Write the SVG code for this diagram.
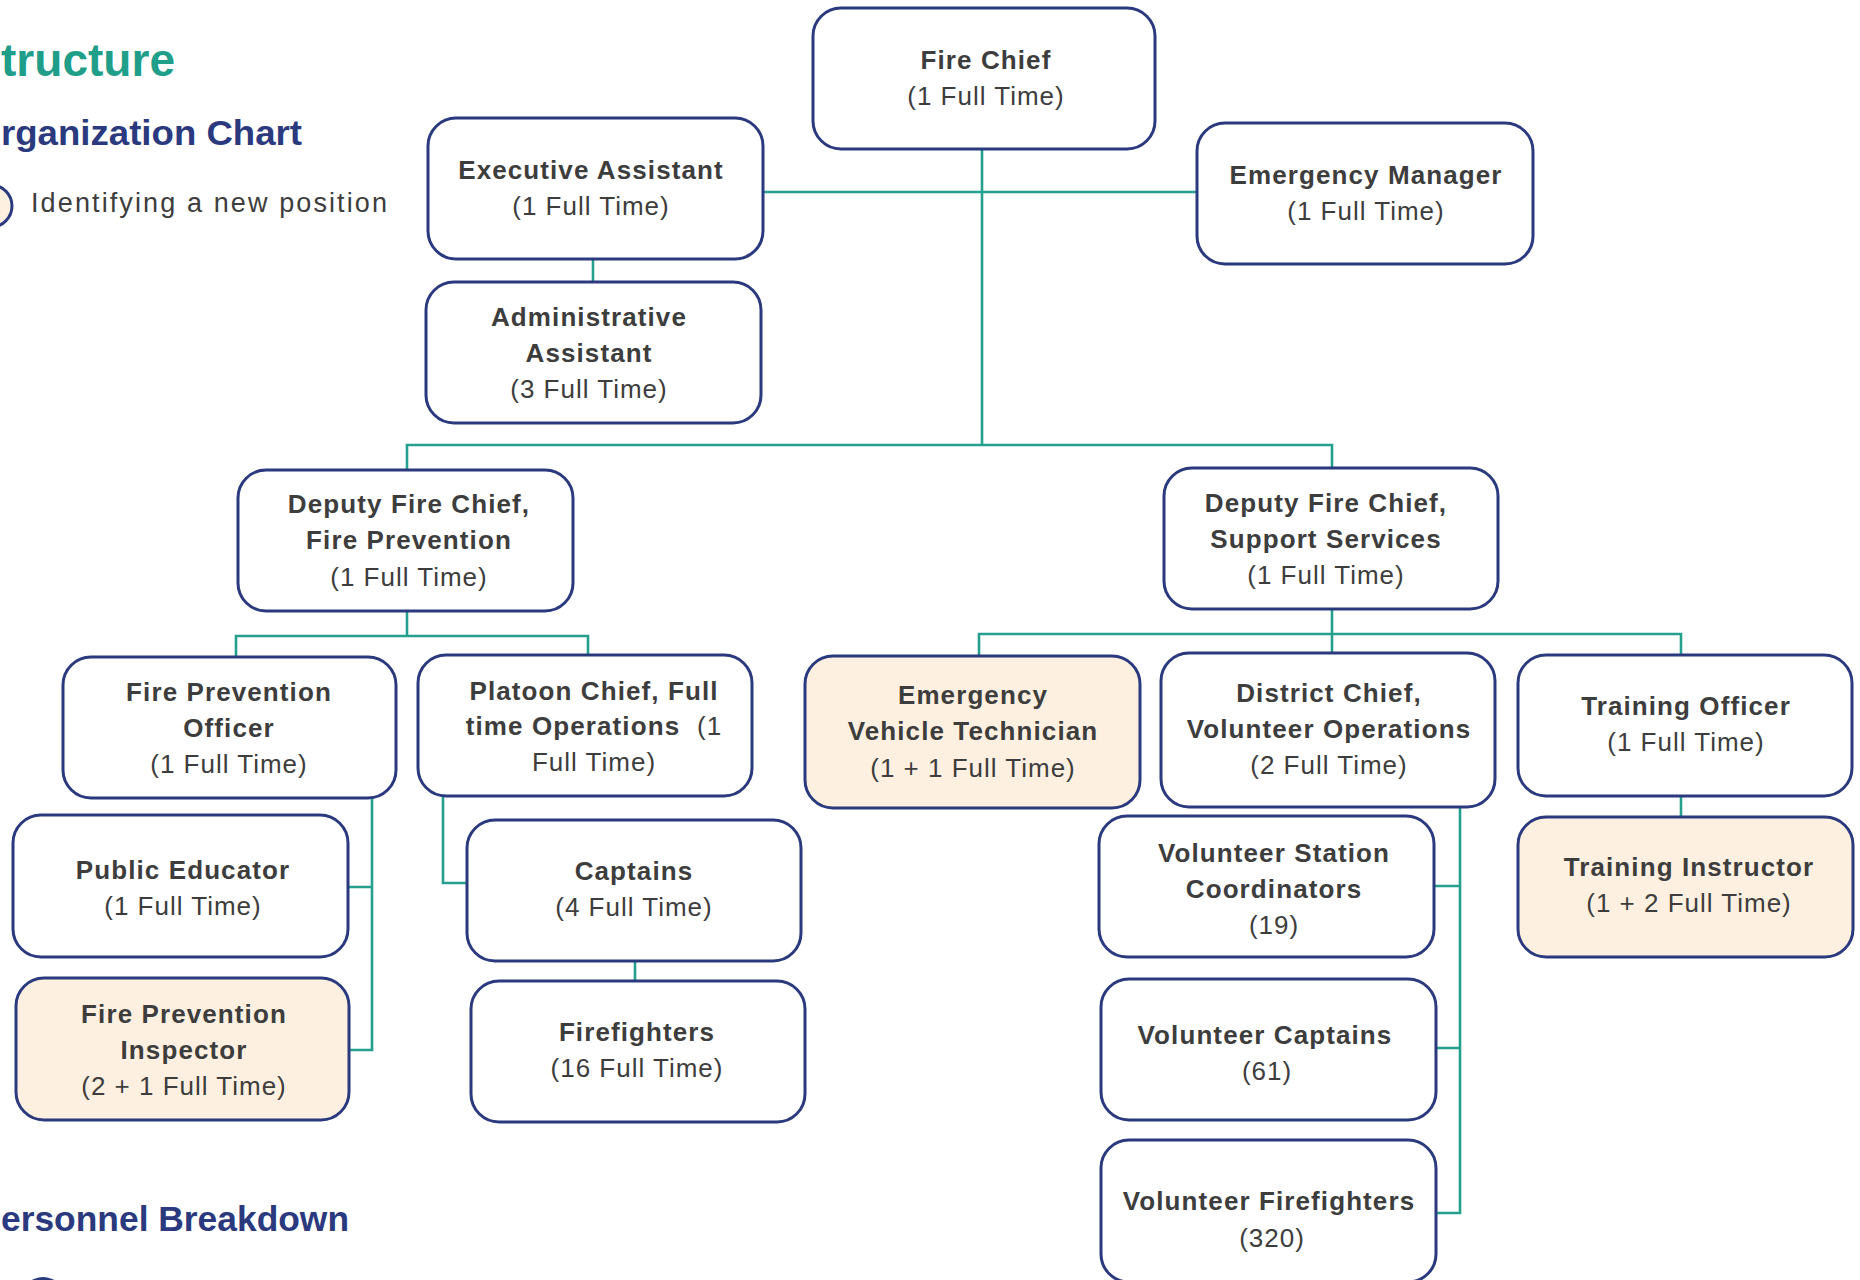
<svg xmlns="http://www.w3.org/2000/svg" width="1860" height="1280" viewBox="0 0 1860 1280">
<style>
.box{fill:#ffffff;stroke:#2b3a7e;stroke-width:3}
.new{fill:#fdf0e0;stroke:#2b3a7e;stroke-width:3}
.ln{fill:none;stroke:#26a08e;stroke-width:2.6}
text{font-family:"Liberation Sans",Arial,sans-serif;fill:#3d3d3d;text-anchor:middle;font-size:26px}
.t{font-weight:bold;letter-spacing:1.1px}
.s{letter-spacing:1px}
.h1{fill:#1f9e8a;font-size:46px;font-weight:bold;text-anchor:start}
.h2{fill:#2b3a7e;font-size:35px;font-weight:bold;text-anchor:start}
.lg{text-anchor:start;font-size:27px}
</style>
<rect width="1860" height="1280" fill="#ffffff"/>
<g id="headers">
<text class="h1" x="1" y="76" textLength="174" lengthAdjust="spacingAndGlyphs">tructure</text>
<text class="h2" x="1" y="145" textLength="301" lengthAdjust="spacingAndGlyphs">rganization Chart</text>
<circle cx="-9" cy="206" r="21" class="new"/>
<text class="lg" x="31" y="212" textLength="356" lengthAdjust="spacing">Identifying a new position</text>
<text class="h2" x="1" y="1231" textLength="348" lengthAdjust="spacingAndGlyphs">ersonnel Breakdown</text>
<circle cx="43" cy="1299" r="22" fill="#2b3a7e"/>
</g>
<g id="connectors">
<path class="ln" d="M982 149V445M763 192H1197M593 259V282"/>
<path class="ln" d="M407 470V445H1332V468"/>
<path class="ln" d="M407 611V636M236 657V636H588V655"/>
<path class="ln" d="M348 887H372M349 1050H372V798"/>
<path class="ln" d="M443 796V883H467M635 961V981"/>
<path class="ln" d="M1332 609V653M979 656V634H1681V655"/>
<path class="ln" d="M1460 807V1213H1436M1434 886H1460M1436 1048H1460"/>
<path class="ln" d="M1681 796V817"/>
</g>
<g id="fire-chief"><rect class="box" x="813" y="8" width="342" height="141" rx="28"/><text class="t" x="986" y="69">Fire Chief</text><text class="s" x="986" y="105">(1 Full Time)</text></g>
<g id="exec-assistant"><rect class="box" x="428" y="118" width="335" height="141" rx="28"/><text class="t" x="591" y="179">Executive Assistant</text><text class="s" x="591" y="215">(1 Full Time)</text></g>
<g id="admin-assistant"><rect class="box" x="426" y="282" width="335" height="141" rx="28"/><text class="t" x="589" y="326">Administrative</text><text class="t" x="589" y="362">Assistant</text><text class="s" x="589" y="398">(3 Full Time)</text></g>
<g id="emergency-manager"><rect class="box" x="1197" y="123" width="336" height="141" rx="28"/><text class="t" x="1366" y="184">Emergency Manager</text><text class="s" x="1366" y="220">(1 Full Time)</text></g>
<g id="deputy-fp"><rect class="box" x="238" y="470" width="335" height="141" rx="28"/><text class="t" x="409" y="513">Deputy Fire Chief,</text><text class="t" x="409" y="549">Fire Prevention</text><text class="s" x="409" y="586">(1 Full Time)</text></g>
<g id="deputy-ss"><rect class="box" x="1164" y="468" width="334" height="141" rx="28"/><text class="t" x="1326" y="512">Deputy Fire Chief,</text><text class="t" x="1326" y="548">Support Services</text><text class="s" x="1326" y="584">(1 Full Time)</text></g>
<g id="fp-officer"><rect class="box" x="63" y="657" width="333" height="141" rx="28"/><text class="t" x="229" y="701">Fire Prevention</text><text class="t" x="229" y="737">Officer</text><text class="s" x="229" y="773">(1 Full Time)</text></g>
<g id="platoon-chief"><rect class="box" x="418" y="655" width="334" height="141" rx="28"/><text class="t" x="594" y="700">Platoon Chief, Full</text><text class="t" x="594" y="735" xml:space="preserve">time Operations  <tspan font-weight="normal">(1</tspan></text><text class="s" x="594" y="771">Full Time)</text></g>
<g id="public-educator"><rect class="box" x="13" y="815" width="335" height="142" rx="28"/><text class="t" x="183" y="879">Public Educator</text><text class="s" x="183" y="915">(1 Full Time)</text></g>
<g id="fp-inspector"><rect class="new" x="16" y="978" width="333" height="142" rx="28"/><text class="t" x="184" y="1023">Fire Prevention</text><text class="t" x="184" y="1059">Inspector</text><text class="s" x="184" y="1095">(2 + 1 Full Time)</text></g>
<g id="captains"><rect class="box" x="467" y="820" width="334" height="141" rx="28"/><text class="t" x="634" y="880">Captains</text><text class="s" x="634" y="916">(4 Full Time)</text></g>
<g id="firefighters"><rect class="box" x="471" y="981" width="334" height="141" rx="28"/><text class="t" x="637" y="1041">Firefighters</text><text class="s" x="637" y="1077">(16 Full Time)</text></g>
<g id="evt"><rect class="new" x="805" y="656" width="335" height="152" rx="28"/><text class="t" x="973" y="704">Emergency</text><text class="t" x="973" y="740">Vehicle Technician</text><text class="s" x="973" y="777">(1 + 1 Full Time)</text></g>
<g id="district-chief"><rect class="box" x="1161" y="653" width="334" height="154" rx="28"/><text class="t" x="1329" y="702">District Chief,</text><text class="t" x="1329" y="738">Volunteer Operations</text><text class="s" x="1329" y="774">(2 Full Time)</text></g>
<g id="training-officer"><rect class="box" x="1518" y="655" width="334" height="141" rx="28"/><text class="t" x="1686" y="715">Training Officer</text><text class="s" x="1686" y="751">(1 Full Time)</text></g>
<g id="training-instructor"><rect class="new" x="1518" y="817" width="335" height="140" rx="28"/><text class="t" x="1689" y="876">Training Instructor</text><text class="s" x="1689" y="912">(1 + 2 Full Time)</text></g>
<g id="vol-station-coord"><rect class="box" x="1099" y="816" width="335" height="141" rx="28"/><text class="t" x="1274" y="862">Volunteer Station</text><text class="t" x="1274" y="898">Coordinators</text><text class="s" x="1274" y="934">(19)</text></g>
<g id="vol-captains"><rect class="box" x="1101" y="979" width="335" height="141" rx="28"/><text class="t" x="1265" y="1044">Volunteer Captains</text><text class="s" x="1267" y="1080">(61)</text></g>
<g id="vol-firefighters"><rect class="box" x="1101" y="1140" width="335" height="142" rx="28"/><text class="t" x="1269" y="1210">Volunteer Firefighters</text><text class="s" x="1272" y="1247">(320)</text></g>
</svg>
